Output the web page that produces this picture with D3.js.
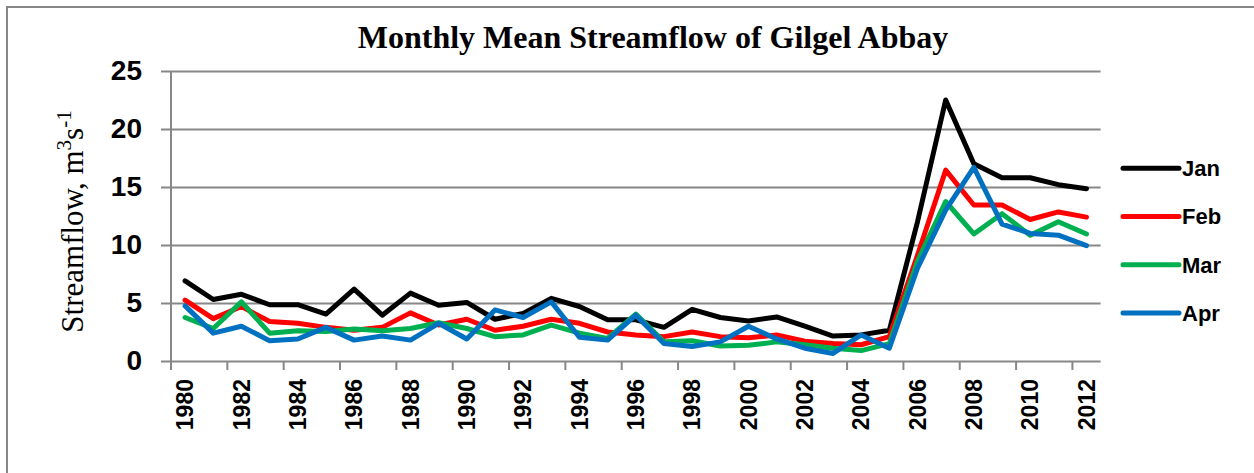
<!DOCTYPE html>
<html>
<head>
<meta charset="utf-8">
<script src="https://cdn.jsdelivr.net/npm/d3@7"></script>
<style>
  body { margin: 0; background: #fff; }
  svg { display: block; }
</style>
</head>
<body>
<svg id="chart"></svg>
<script>
// data
const years = [1980, 1981, 1982, 1983, 1984, 1985, 1986, 1987, 1988, 1989, 1990,
  1991, 1992, 1993, 1994, 1995, 1996, 1997, 1998, 1999, 2000, 2001,
  2002, 2003, 2004, 2005, 2006, 2007, 2008, 2009, 2010, 2011, 2012];

const jan = [6.9, 5.3, 5.75, 4.85, 4.85, 4.05, 6.2, 3.95, 5.85, 4.8, 5.05,
  3.6, 4.1, 5.4, 4.7, 3.55, 3.55, 2.9, 4.45, 3.75, 3.45, 3.8,
  3.0, 2.15, 2.25, 2.65, 12.0, 22.5, 17.0, 15.8, 15.8, 15.2, 14.85];
const feb = [5.25, 3.65, 4.7, 3.4, 3.25, 2.9, 2.65, 2.9, 4.15, 3.1, 3.6,
  2.65, 3.0, 3.6, 3.25, 2.5, 2.25, 2.1, 2.5, 2.1, 2.0, 2.25,
  1.7, 1.5, 1.4, 2.1, 9.1, 16.45, 13.45, 13.45, 12.2, 12.85, 12.4];
const mar = [3.75, 2.8, 5.1, 2.4, 2.6, 2.55, 2.75, 2.6, 2.8, 3.3, 2.8,
  2.1, 2.25, 3.1, 2.4, 1.95, 4.05, 1.65, 1.75, 1.3, 1.35, 1.65,
  1.4, 1.1, 0.9, 1.5, 8.6, 13.75, 10.95, 12.7, 10.85, 12.0, 10.95];
const apr = [4.75, 2.4, 3.0, 1.75, 1.9, 2.9, 1.8, 2.15, 1.8, 3.25, 1.9,
  4.4, 3.75, 5.1, 2.05, 1.8, 3.95, 1.5, 1.25, 1.65, 3.0, 1.9,
  1.1, 0.65, 2.25, 1.1, 8.0, 13.0, 16.7, 11.8, 11.0, 10.85, 9.95];

const seriesNames = ['Jan', 'Feb', 'Mar', 'Apr'];
const seriesValues = [jan, feb, mar, apr];
const seriesColors = ['#000000', '#ff0000', '#00b050', '#0070c0'];
const yTicks = [0, 5, 10, 15, 20, 25];

const width = 1254, height = 473;
const plot = {left: 171, right: 1100.6, top: 71, bottom: 361};
const gridColor = '#878787';

const svg = d3.select('#chart')
  .attr('width', width)
  .attr('height', height);

svg.append('rect')
  .attr('width', width).attr('height', height)
  .attr('fill', '#fff');

// outer chart frame (only top and left edges are inside the picture)
svg.append('rect')
  .attr('x', 7).attr('y', 7)
  .attr('width', width + 20).attr('height', height + 20)
  .attr('fill', 'none')
  .attr('stroke', gridColor)
  .attr('stroke-width', 2);

const x = d3.scaleBand()
  .domain(years)
  .range([plot.left, plot.right])
  .padding(0);

const y = d3.scaleLinear()
  .domain([0, 25])
  .range([plot.bottom, plot.top]);

// gridlines + y axis
const yAxis = svg.append('g')
  .attr('transform', `translate(${plot.left},0)`)
  .call(d3.axisLeft(y).tickValues(yTicks).tickSize(10).tickPadding(19));
yAxis.select('.domain').remove();
yAxis.selectAll('.tick line')
  .attr('x2', plot.right - plot.left)
  .attr('x1', -10)
  .attr('stroke', gridColor)
  .attr('stroke-width', 2);
yAxis.selectAll('.tick text')
  .attr('font-family', '"Liberation Sans", Arial, sans-serif')
  .attr('font-weight', 'bold')
  .attr('font-size', 28)
  .attr('fill', '#000');

svg.append('line')
  .attr('x1', plot.left).attr('x2', plot.left)
  .attr('y1', plot.top).attr('y2', plot.bottom + 9)
  .attr('stroke', gridColor)
  .attr('stroke-width', 2);

// x axis: ticks on band edges, labels every second year
const bw = x.bandwidth();
const xAxis = svg.append('g')
  .attr('transform', `translate(0,${plot.bottom})`)
  .call(d3.axisBottom(x)
    .tickValues(years.filter((d, i) => i % 2 === 0))
    .tickSize(9)
    .tickSizeOuter(0));
xAxis.select('.domain').remove();
xAxis.selectAll('.tick line')
  .attr('x1', -bw / 2).attr('x2', -bw / 2)
  .attr('stroke', gridColor)
  .attr('stroke-width', 2);
xAxis.selectAll('.tick text')
  .attr('font-family', '"Liberation Sans", Arial, sans-serif')
  .attr('font-weight', 'bold')
  .attr('font-size', 23)
  .attr('fill', '#000')
  .attr('text-anchor', 'end')
  .attr('transform', 'translate(0,18) rotate(-90)')
  .attr('x', 0)
  .attr('y', 0)
  .attr('dy', '0.36em');

// series lines
const line = d3.line()
  .x((d, i) => x(years[i]) + bw / 2)
  .y(d => y(d));

svg.append('g')
  .selectAll('path')
  .data(seriesValues)
  .join('path')
    .attr('d', d => line(d))
    .attr('fill', 'none')
    .attr('stroke', (d, i) => seriesColors[i])
    .attr('stroke-width', 5)
    .attr('stroke-linejoin', 'round')
    .attr('stroke-linecap', 'round');

// legend
const legend = svg.append('g')
  .selectAll('g')
  .data(seriesNames)
  .join('g')
    .attr('transform', (d, i) => `translate(1123,${168.3 + i * 48.2})`);

legend.append('line')
  .attr('x1', 0).attr('x2', 56)
  .attr('stroke', (d, i) => seriesColors[i])
  .attr('stroke-width', 5)
  .attr('stroke-linecap', 'round');

legend.append('text')
  .attr('x', 59)
  .attr('dy', '0.36em')
  .attr('font-family', '"Liberation Sans", Arial, sans-serif')
  .attr('font-weight', 'bold')
  .attr('font-size', 22)
  .text(d => d);

// title
svg.append('text')
  .attr('x', 653)
  .attr('y', 48)
  .attr('text-anchor', 'middle')
  .attr('font-family', '"Liberation Serif", "Times New Roman", serif')
  .attr('font-weight', 'bold')
  .attr('font-size', 32)
  .text('Monthly Mean Streamflow of Gilgel Abbay');

// y axis title with superscripts
const yTitle = svg.append('text')
  .attr('transform', 'translate(83,221.5) rotate(-90)')
  .attr('text-anchor', 'middle')
  .attr('font-family', '"Liberation Serif", "Times New Roman", serif')
  .attr('font-size', 31);
yTitle.append('tspan').text('Streamflow, m');
yTitle.append('tspan').attr('font-size', 21).attr('dy', -12).text('3');
yTitle.append('tspan').attr('dy', 12).text('s');
yTitle.append('tspan').attr('font-size', 21).attr('dy', -12).text('-1');
</script>
</body>
</html>
